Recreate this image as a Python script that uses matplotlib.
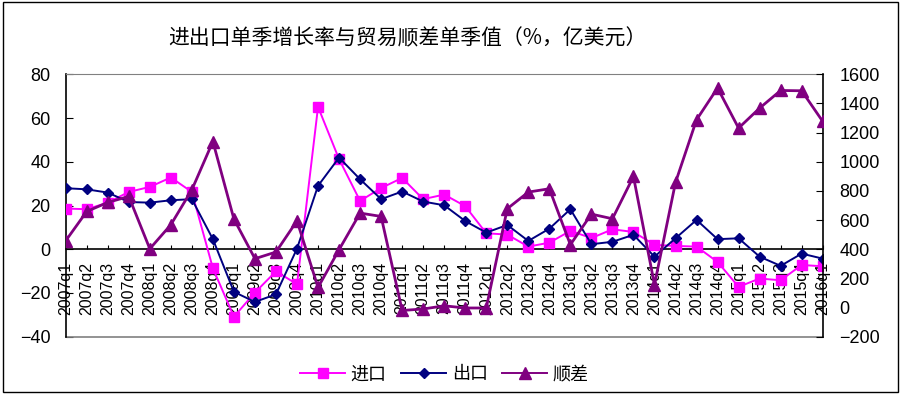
import matplotlib
matplotlib.use("Agg")
import matplotlib.pyplot as plt
from matplotlib.lines import Line2D
from matplotlib.patches import Rectangle

plt.rcParams['font.family'] = ['Liberation Sans', 'Noto Sans CJK SC', 'DejaVu Sans']

quarters = [f"{y}q{q}" for y in range(2007, 2016) for q in range(1, 5)] + ["2016q1"]

# 进口 / 出口 单季增长率 (%)
imports = [18.6, 18.3, 21.3, 26.2, 28.5, 32.8, 26.2, -8.7, -30.9, -19.8, -10.1, -16.0,
           65.1, 41.2, 22.1, 28.0, 32.6, 22.9, 25.0, 19.7, 7.3, 6.7, 1.2, 3.0,
           8.4, 5.1, 9.1, 7.9, 2.0, 1.5, 1.2, -5.8, -17.2, -13.4, -14.2, -7.2, -7.8]
exports = [27.9, 27.4, 25.9, 21.6, 21.3, 22.4, 22.9, 4.6, -19.5, -24.1, -20.6, 0.3,
           29.0, 41.9, 32.0, 22.9, 26.4, 21.8, 20.1, 12.9, 7.6, 11.1, 3.8, 9.4,
           18.3, 2.3, 3.4, 6.6, -3.4, 5.0, 13.4, 4.6, 5.0, -3.4, -7.6, -2.0, -4.3]
# 贸易顺差 单季值 (亿美元)
surplus = [458, 659, 721, 762, 403, 568, 808, 1139, 607, 335, 381, 595,
           138, 397, 648, 625, -20, -10, 12, -3, -3, 678, 792, 815,
           431, 641, 609, 899, 157, 858, 1288, 1506, 1231, 1368, 1489, 1487, 1277]

W, H = 902, 397
fig = plt.figure(figsize=(W / 100, H / 100), dpi=100)
fig.patches.append(Rectangle((3 / W, 1 - 392 / H), 895 / W, 390 / H, transform=fig.transFigure,
                             fill=False, edgecolor='black', lw=1))

left, right, top, bottom = 65.7, 822.7, 74.3, 336.7
ax = fig.add_axes([left / W, 1 - bottom / H, (right - left) / W, (bottom - top) / H])
ax2 = ax.twinx()

x = list(range(len(quarters)))
ax.plot(x, imports, color='#FF00FF', lw=1.4, marker='s', ms=7, zorder=3, label='进口')
ax.plot(x, exports, color='#000080', lw=1.4, marker='D', ms=5.5, zorder=3, label='出口')
ax2.plot(x, surplus, color='#800080', lw=2, marker='^', ms=9, zorder=3, label='顺差')

ax.set_xlim(0, len(quarters) - 1)
ax.set_ylim(-40, 80)
ax2.set_ylim(-200, 1600)
ax.set_yticks(range(-40, 81, 20))
ax2.set_yticks(range(-200, 1601, 200))

# frame
ax.spines['top'].set_color('#808080')
ax.spines['right'].set_visible(False)
ax.spines['left'].set_color('black')
ax.spines['bottom'].set_position(('data', 0))
ax.spines['bottom'].set_color('black')
ax.spines['bottom'].set_linewidth(1.2)
ax.axhline(-40, color='#808080', lw=1.2, clip_on=False)
for s in ['top', 'left', 'bottom']:
    ax2.spines[s].set_visible(False)
ax2.spines['right'].set_color('black')
ax2.spines['right'].set_linewidth(1.2)
ax.spines['left'].set_linewidth(1.2)

ax.set_xticks(x)
ax.set_xticklabels(quarters, rotation=90, ha='center', va='top')
ax.tick_params(axis='x', direction='in', length=3, labelsize=11.5, pad=9)
ax.tick_params(axis='y', direction='in', length=5, labelsize=13, pad=11)
ax2.tick_params(axis='y', direction='in', length=5, labelsize=13, pad=12)

fig.text(407 / W, 1 - 38.5 / H, '进出口单季增长率与贸易顺差单季值（%，亿美元）',
         ha='center', va='center', fontsize=15, family=['Noto Sans CJK SC', 'DejaVu Sans'])

handles = [Line2D([], [], color='#FF00FF', lw=1.4, marker='s', ms=7),
           Line2D([], [], color='#000080', lw=1.4, marker='D', ms=5.5),
           Line2D([], [], color='#800080', lw=1.4, marker='^', ms=8)]
fig.legend(handles, ['进口', '出口', '顺差'], loc='center', bbox_to_anchor=(444.5 / W, 1 - 374.3 / H),
           ncol=3, frameon=False, handlelength=2.5, handletextpad=0.3, columnspacing=0.8,
           prop={'family': ['Noto Sans CJK SC', 'DejaVu Sans'], 'size': 13})

fig.savefig('out.png', dpi=100)
